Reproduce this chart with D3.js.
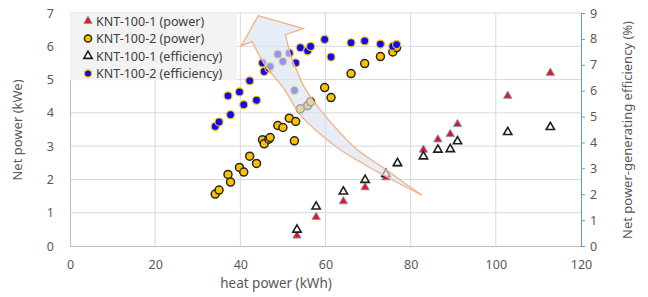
<!DOCTYPE html>
<html><head><meta charset="utf-8">
<script src="https://cdn.jsdelivr.net/npm/d3@7"></script>
<style>
body{margin:0;background:#fff;}
text{font-family:"Noto Sans","Open Sans",sans-serif;}
</style>
</head><body>
<svg id="c" width="648" height="297"></svg>
<script>
// ---- data ----
const xTicks = [0, 20, 40, 60, 80, 100, 120];
const yLeftTicks = [0, 1, 2, 3, 4, 5, 6, 7];
const yRightTicks = [0, 1, 2, 3, 4, 5, 6, 7, 8, 9];
const seriesNames = ["KNT-100-1 (power)", "KNT-100-2 (power)", "KNT-100-1 (efficiency)", "KNT-100-2 (efficiency)"];

// KNT-100-2
const heat2  = [34.1, 35.0, 37.7, 37.1, 39.8, 40.8, 42.2, 43.8, 45.2, 45.6, 46.7, 47.0, 52.7, 48.8, 50.0, 51.5, 53.0, 54.1, 55.8, 56.5, 59.8, 61.3, 66.0, 69.2, 72.9, 75.8, 76.7];
const power2 = [1.56, 1.68, 1.92, 2.15, 2.36, 2.22, 2.70, 2.48, 3.19, 3.07, 3.21, 3.26, 3.16, 3.62, 3.56, 3.84, 3.74, 4.12, 4.22, 4.33, 4.76, 4.46, 5.18, 5.48, 5.69, 5.83, 5.96];
const eff2   = [4.62, 4.79, 5.07, 5.80, 5.95, 5.46, 6.38, 5.63, 7.07, 6.74, 6.87, 6.93, 6.01, 7.41, 7.13, 7.45, 7.07, 7.66, 7.54, 7.71, 7.98, 7.30, 7.85, 7.92, 7.80, 7.71, 7.78];

// KNT-100-1
const heat1  = [53.3, 57.8, 64.2, 69.3, 74.2, 76.9, 83.0, 86.4, 89.3, 91.0, 102.8, 112.8];
const power1 = [0.31, 0.87, 1.34, 1.76, 2.06, 2.46, 2.89, 3.20, 3.36, 3.66, 4.51, 5.20];
const eff1   = [0.63, 1.52, 2.10, 2.55, 2.78, 3.20, 3.46, 3.72, 3.74, 4.04, 4.40, 4.59];

// curved arrow annotation outline (data units: heat power, net power)
const arrowHead  = [[54.8, 6.53], [44.2, 6.92], [40.2, 6.01]]; // right barb, tip, left barb
const arrowRight = [[50.6, 6.35], [51.8, 5.74], [53.4, 5.23], [55.1, 4.75], [58.4, 4.15], [62.8, 3.49], [67.5, 2.89], [74.6, 2.26], [79.1, 1.84], [82.0, 1.58]];
const arrowLeft  = [[82.6, 1.53], [76.5, 1.93], [71.3, 2.29], [63.5, 2.89], [57.6, 3.49], [53.9, 3.97], [50.1, 4.75], [45.6, 5.47], [42.8, 6.14]];

// ---- layout ----
const svg = d3.select("#c");
const L = 70, R = 581, T = 13, B = 246;
const x = d3.scaleLinear().domain([0, 120]).range([L, R]);
const yL = d3.scaleLinear().domain([0, 7]).range([B, T]);
const yR = d3.scaleLinear().domain([0, 9]).range([B, T]);
const fmt = d3.format("d");

const grid = svg.append("g");
xTicks.filter(d => d > 0 && d < 120).forEach(d => {
  grid.append("line").attr("x1", x(d)).attr("x2", x(d)).attr("y1", T).attr("y2", B)
    .attr("stroke", "#d9d9d9").attr("stroke-width", 1);
});
yLeftTicks.filter(d => d > 0).forEach(d => {
  grid.append("line").attr("x1", L).attr("x2", R).attr("y1", yL(d)).attr("y2", yL(d))
    .attr("stroke", "#d9d9d9").attr("stroke-width", 1);
});

// axes
const gx = svg.append("g").attr("transform", `translate(0,${B})`)
  .call(d3.axisBottom(x).tickValues(xTicks).tickFormat(fmt).tickSize(0).tickPadding(14));
gx.select(".domain").attr("stroke", "#bfbfbf");
const gyl = svg.append("g").attr("transform", `translate(${L},0)`)
  .call(d3.axisLeft(yL).tickValues(yLeftTicks).tickFormat(fmt).tickSize(0).tickPadding(16));
gyl.select(".domain").attr("stroke", "#bfbfbf");
const gyr = svg.append("g").attr("transform", `translate(${R},0)`)
  .call(d3.axisRight(yR).tickValues(yRightTicks).tickFormat(fmt).tickSize(4).tickSizeOuter(0).tickPadding(5));
gyr.select(".domain").attr("stroke", "#5b9bd5");
gyr.selectAll(".tick line").attr("stroke", "#5b9bd5");
[gx, gyl, gyr].forEach(g => g.selectAll("text").attr("fill", "#595959")
  .style("font-size", "12.5px").style("font-family", "'Noto Sans','Open Sans',sans-serif"));

// titles
svg.append("text").attr("x", 276).attr("y", 288).attr("text-anchor", "middle")
  .attr("fill", "#595959").style("font-size", "13.5px").text("heat power (kWh)");
svg.append("text").attr("transform", "translate(22,130) rotate(-90)").attr("text-anchor", "middle")
  .attr("fill", "#595959").style("font-size", "13px").text("Net power (kWe)");
svg.append("text").attr("transform", "translate(632,130) rotate(-90)").attr("text-anchor", "middle")
  .attr("fill", "#595959").style("font-size", "13px").text("Net power-generating efficiency (%)");

// marker styles
const tri = d3.symbol().type(d3.symbolTriangle).size(30);
function drawTri(g, xs, ys, yScale, fill, stroke, sw) {
  g.selectAll(null).data(xs).enter().append("path")
    .attr("d", tri)
    .attr("transform", (d, i) => `translate(${x(d)},${yScale(ys[i])})`)
    .attr("fill", fill).attr("stroke", stroke).attr("stroke-width", sw);
}
function drawCirc(g, xs, ys, yScale, fill, stroke, sw) {
  g.selectAll(null).data(xs).enter().append("circle")
    .attr("cx", d => x(d)).attr("cy", (d, i) => yScale(ys[i])).attr("r", 4)
    .attr("fill", fill).attr("stroke", stroke).attr("stroke-width", sw);
}
const pts = svg.append("g");
drawTri(pts, heat1, power1, yL, "#e8141b", "#8497b0", 1);
drawCirc(pts, heat2, power2, yL, "#ffc000", "#262626", 1.5);
drawTri(pts, heat1, eff1, yR, "#ffffff", "#1f1f1f", 1.6);
drawCirc(pts, heat2, eff2, yR, "#0a0aff", "#ffc000", 1.2);

// legend
const lg = svg.append("g");
lg.append("rect").attr("x", L).attr("y", T).attr("width", 167).attr("height", 67)
  .attr("fill", "#f2f2f2").attr("opacity", 0.92);
const rowsY = [21, 38.5, 56, 73.5];
const lx = 88;
lg.append("path").attr("d", tri).attr("transform", `translate(${lx},${rowsY[0]})`)
  .attr("fill", "#e8141b").attr("stroke", "#8497b0").attr("stroke-width", 1);
lg.append("circle").attr("cx", lx).attr("cy", rowsY[1]).attr("r", 3.6)
  .attr("fill", "#ffc000").attr("stroke", "#262626").attr("stroke-width", 1.5);
lg.append("path").attr("d", tri).attr("transform", `translate(${lx},${rowsY[2]})`)
  .attr("fill", "#fff").attr("stroke", "#1f1f1f").attr("stroke-width", 1.6);
lg.append("circle").attr("cx", lx).attr("cy", rowsY[3]).attr("r", 3.6)
  .attr("fill", "#0a0aff").attr("stroke", "#ffc000").attr("stroke-width", 1.2);
seriesNames.forEach((n, i) => {
  lg.append("text").attr("x", 96).attr("y", rowsY[i] + 4.5).attr("fill", "#404040")
    .style("font-size", "12.5px").text(n);
});

// curved arrow
const toPx = p => [x(p[0]), yL(p[1])];
const curve = d3.line().curve(d3.curveCatmullRom.alpha(0.5));
const rightPath = curve(arrowRight.map(toPx)).replace(/^M/, "L");
const leftPath = curve(arrowLeft.map(toPx)).replace(/^M/, "L");
const h = arrowHead.map(toPx);
const d = `M${h[1][0]},${h[1][1]}L${h[0][0]},${h[0][1]}` + rightPath + leftPath + `L${h[2][0]},${h[2][1]}Z`;
svg.append("path").attr("d", d)
  .attr("fill", "#dae3f3").attr("fill-opacity", 0.65)
  .attr("stroke", "#f4b183").attr("stroke-width", 1.3).attr("stroke-linejoin", "miter");
</script>
</body></html>
